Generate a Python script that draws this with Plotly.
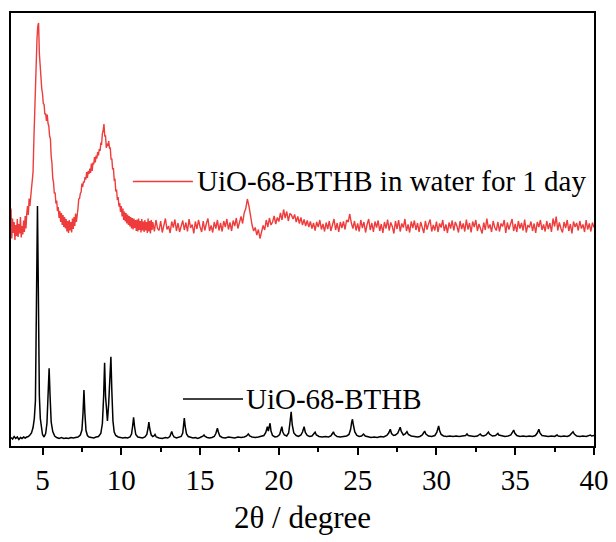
import numpy as np
import plotly.graph_objects as go

# PXRD patterns: 2-theta in degrees, intensity in arbitrary units

# as-synthesised UiO-68-BTHB (black trace)
black_x = [3.00, 3.10, 3.20, 3.30, 3.40, 3.50, 3.60, 3.70, 3.80, 3.90, 4.00, 4.10, 4.20, 4.30, 4.40, 4.48, 4.55, 4.60, 4.64, 4.68,
           4.72, 4.76, 4.80, 4.86, 4.93, 5.00, 5.10, 5.20, 5.28, 5.35, 5.42, 5.48, 5.55, 5.65, 5.77, 5.90, 6.05, 6.20, 6.35, 6.50,
           6.65, 6.80, 6.95, 7.10, 7.25, 7.40, 7.50, 7.57, 7.63, 7.69, 7.76, 7.85, 7.95, 8.10, 8.25, 8.40, 8.55, 8.70, 8.80, 8.88,
           8.94, 9.00, 9.06, 9.12, 9.20, 9.28, 9.34, 9.40, 9.47, 9.55, 9.65, 9.80, 9.95, 10.10, 10.25, 10.40, 10.55, 10.65, 10.72, 10.78,
           10.84, 10.92, 11.05, 11.20, 11.35, 11.50, 11.62, 11.70, 11.75, 11.81, 11.90, 12.00, 12.07, 12.14, 12.22, 12.40, 12.60, 12.80, 12.95, 13.08,
           13.15, 13.20, 13.26, 13.35, 13.50, 13.65, 13.80, 13.90, 13.95, 14.00, 14.06, 14.14, 14.25, 14.40, 14.55, 14.70, 14.85, 15.00, 15.12, 15.20,
           15.25, 15.32, 15.45, 15.60, 15.75, 15.90, 16.00, 16.06, 16.10, 16.16, 16.25, 16.40, 16.60, 16.80, 17.00, 17.20, 17.40, 17.60, 17.80, 17.95,
           18.06, 18.15, 18.30, 18.50, 18.70, 18.90, 19.05, 19.17, 19.22, 19.27, 19.33, 19.38, 19.44, 19.50, 19.60, 19.75, 19.90, 20.05, 20.12, 20.19,
           20.25, 20.35, 20.50, 20.62, 20.70, 20.78, 20.85, 20.95, 21.10, 21.25, 21.40, 21.50, 21.60, 21.68, 21.80, 21.95, 22.10, 22.20, 22.30, 22.38,
           22.55, 22.75, 22.95, 23.15, 23.30, 23.40, 23.46, 23.53, 23.70, 23.90, 24.10, 24.30, 24.45, 24.55, 24.62, 24.67, 24.73, 24.82, 24.95, 25.10,
           25.25, 25.37, 25.48, 25.65, 25.85, 26.05, 26.25, 26.45, 26.65, 26.85, 26.97, 27.07, 27.15, 27.28, 27.40, 27.55, 27.63, 27.70, 27.77, 27.90,
           28.02, 28.13, 28.22, 28.40, 28.60, 28.80, 28.95, 29.10, 29.18, 29.25, 29.33, 29.50, 29.70, 29.90, 30.02, 30.08, 30.14, 30.20, 30.30, 30.45,
           30.65, 30.85, 31.05, 31.25, 31.45, 31.65, 31.85, 31.94, 32.02, 32.20, 32.40, 32.60, 32.70, 32.78, 32.86, 33.00, 33.15, 33.24, 33.30, 33.37,
           33.55, 33.75, 33.84, 33.90, 33.96, 34.15, 34.35, 34.55, 34.72, 34.82, 34.90, 34.97, 35.10, 35.30, 35.50, 35.70, 35.90, 36.10, 36.28, 36.40,
           36.50, 36.57, 36.70, 36.90, 37.10, 37.30, 37.50, 37.60, 37.66, 37.73, 37.90, 38.10, 38.30, 38.45, 38.58, 38.67, 38.75, 38.90, 39.10, 39.30,
           39.50, 39.65, 39.77, 39.85, 40.00]
black_y = [34, 28, 38, 30, 36, 26, 34, 30, 36, 32, 36, 38, 44, 52, 74, 110, 180, 420, 760, 960,
           720, 420, 200, 110, 64, 46, 36, 50, 90, 190, 311, 200, 96, 58, 40, 34, 30, 34, 30, 32,
           30, 34, 32, 34, 36, 44, 64, 130, 224, 130, 62, 42, 36, 34, 32, 36, 38, 50, 90, 200,
           333, 200, 120, 100, 170, 300, 357, 220, 100, 56, 42, 36, 34, 32, 34, 32, 36, 48, 80, 115,
           78, 46, 36, 34, 32, 36, 46, 72, 96, 68, 44, 38, 40, 46, 36, 32, 30, 34, 32, 38,
           48, 58, 46, 36, 32, 34, 38, 52, 80, 112, 76, 48, 38, 34, 32, 34, 30, 34, 36, 40,
           44, 38, 34, 32, 34, 38, 50, 66, 71, 56, 40, 34, 32, 36, 34, 32, 36, 34, 36, 40,
           48, 40, 36, 34, 36, 38, 42, 54, 66, 77, 60, 70, 91, 60, 42, 36, 38, 46, 60, 77,
           56, 44, 40, 52, 90, 137, 84, 52, 42, 38, 44, 56, 77, 54, 42, 38, 40, 46, 55, 44,
           38, 36, 38, 36, 40, 50, 57, 46, 38, 36, 38, 40, 46, 66, 94, 107, 84, 56, 42, 38,
           40, 48, 40, 36, 34, 36, 34, 38, 36, 42, 52, 67, 50, 42, 44, 52, 64, 75, 58, 44,
           48, 57, 46, 40, 38, 36, 38, 44, 52, 60, 48, 40, 38, 42, 54, 68, 80, 62, 46, 40,
           38, 40, 38, 40, 38, 40, 42, 48, 42, 40, 38, 40, 44, 48, 42, 40, 44, 50, 56, 48,
           40, 42, 46, 50, 44, 40, 38, 40, 44, 54, 64, 52, 42, 38, 40, 38, 40, 38, 42, 52,
           67, 52, 42, 40, 38, 40, 38, 42, 44, 40, 38, 40, 38, 42, 50, 57, 48, 40, 38, 40,
           38, 42, 44, 40, 42]

# after soaking in water for 1 day (red trace), fine scan 3.00-11.95 deg, step 0.05
red_fine_y = [150, 30, 110, 52, 96, 24, 84, 40, 108, 36, 88, 50, 116, 34, 80, 46, 102, 56, 120, 70,
              130, 160, 124, 190, 160, 214, 230, 262, 296, 420, 540, 650, 740, 830, 880, 892, 770, 690, 676, 630,
              610, 570, 566, 526, 530, 500, 526, 490, 480, 440, 430, 360, 330, 270, 254, 210, 214, 170, 182, 140,
              156, 112, 140, 96, 132, 84, 124, 76, 116, 70, 108, 58, 100, 52, 104, 62, 96, 54, 110, 68,
              116, 80, 130, 96, 142, 150, 188, 190, 210, 216, 250, 236, 258, 254, 276, 266, 296, 272, 300, 288,
              310, 292, 330, 300, 334, 326, 356, 334, 362, 350, 376, 362, 388, 380, 410, 408, 450, 462, 488, 440,
              440, 392, 410, 400, 420, 392, 392, 346, 350, 306, 312, 264, 266, 218, 226, 184, 196, 158, 172, 136,
              160, 118, 150, 104, 138, 98, 132, 90, 126, 84, 120, 78, 116, 70, 112, 66, 110, 72, 104, 60,
              106, 58, 110, 64, 100, 54, 108, 62, 98, 56, 104, 62, 96, 52, 110, 58, 100, 50, 104, 64]
# coarse scan 12.0-40.0 deg, step 0.1
red_coarse_y = [96, 58, 104, 70, 62, 100, 54, 88, 110, 66,
                80, 52, 98, 74, 106, 60, 92, 56, 84, 102,
                64, 94, 58, 108, 72, 86, 50, 98, 68, 104,
                76, 56, 100, 62, 90, 110, 60, 82, 54, 96,
                70, 104, 62, 92, 58, 100, 76, 108, 66, 94,
                60, 102, 80, 112, 70, 98, 118, 90, 132, 150,
                188, 160, 118, 84, 60, 74, 44, 66, 30, 58,
                82, 64, 104, 76, 112, 84, 96, 120, 88, 114,
                98, 132, 104, 146, 112, 138, 100, 130, 124, 108,
                126, 96, 118, 90, 114, 84, 106, 80, 102, 76,
                98, 70, 92, 62, 96, 76, 104, 66, 88, 58,
                94, 68, 100, 60, 86, 108, 64, 92, 56, 96,
                72, 98, 66, 104, 96, 128, 92, 70, 100, 62,
                90, 58, 104, 72, 96, 54, 86, 108, 64, 92,
                56, 98, 74, 102, 60, 88, 52, 96, 70, 106,
                62, 94, 78, 50, 100, 68, 104, 58, 90, 74,
                108, 60, 86, 54, 98, 72, 102, 64, 92, 56,
                96, 70, 52, 100, 66, 88, 106, 58, 84, 62,
                98, 56, 90, 74, 104, 60, 86, 52, 94, 70,
                102, 62, 96, 80, 54, 100, 68, 90, 58, 106,
                66, 92, 54, 98, 76, 104, 60, 88, 72, 50,
                94, 64, 110, 70, 86, 56, 100, 74, 62, 96,
                58, 90, 78, 104, 52, 94, 66, 86, 108, 60,
                88, 56, 100, 70, 92, 62, 106, 54, 84, 74,
                98, 60, 90, 52, 96, 76, 104, 64, 86, 58,
                100, 68, 92, 56, 110, 78, 118, 62, 94, 70,
                54, 96, 72, 104, 60, 88, 50, 98, 76, 92,
                62, 100, 70, 86, 56, 104, 66, 90, 58, 94,
                74]
red_offset = 800  # vertical stacking offset for the soaked sample

red_x = np.concatenate([3.0 + 0.05 * np.arange(len(red_fine_y)),
                        12.0 + 0.1 * np.arange(len(red_coarse_y))])
red_y = np.array(red_fine_y + red_coarse_y) + red_offset

x_ticks = [5, 10, 15, 20, 25, 30, 35, 40]
label_red = "UiO-68-BTHB in water for 1 day"
label_black = "UiO-68-BTHB"

RED = "#ee3c3c"
FONT = "Times New Roman, Liberation Serif, serif"

fig = go.Figure()
fig.add_trace(go.Scatter(x=red_x, y=red_y, mode="lines",
                         line=dict(color=RED, width=1.4), name=label_red))
fig.add_trace(go.Scatter(x=black_x, y=black_y, mode="lines",
                         line=dict(color="black", width=1.5), name=label_black))

# in-plot labels: short line sample followed by the sample name
for (x0, x1, y, tx, txt, col) in [(0.209, 0.312, 0.611, 0.315, label_red, RED),
                                   (0.295, 0.398, 0.1085, 0.400, label_black, "black")]:
    fig.add_shape(type="line", xref="paper", yref="paper", x0=x0, x1=x1, y0=y, y1=y,
                  line=dict(color=col, width=1.5))
    fig.add_annotation(xref="paper", yref="paper", x=tx, y=y, text=txt, showarrow=False,
                       xanchor="left", yanchor="middle",
                       font=dict(family=FONT, size=29, color="black"))

fig.update_layout(
    template="none",
    width=616, height=542,
    margin=dict(l=11, r=22, t=13, b=96),
    paper_bgcolor="white", plot_bgcolor="white",
    showlegend=False,
    font=dict(family=FONT, size=29, color="black"),
)
fig.update_xaxes(
    range=[3, 40], tickvals=x_ticks, ticktext=[str(v) for v in x_ticks],
    ticks="outside", ticklen=7, tickwidth=1.5, tickcolor="black",
    minor=dict(ticks="outside", ticklen=4, tickwidth=1.5, tickcolor="black", dtick=2.5, tick0=0),
    tickfont=dict(family=FONT, size=29, color="black"),
    showline=True, linecolor="black", linewidth=1.5, mirror=True,
    showgrid=False, zeroline=False,
    title=dict(text="2θ / degree", font=dict(family=FONT, size=31, color="black"), standoff=12),
)
fig.update_yaxes(
    range=[0, 1732], showticklabels=False, ticks="",
    showline=True, linecolor="black", linewidth=1.5, mirror=True,
    showgrid=False, zeroline=False,
)

fig.write_html("out.html")
